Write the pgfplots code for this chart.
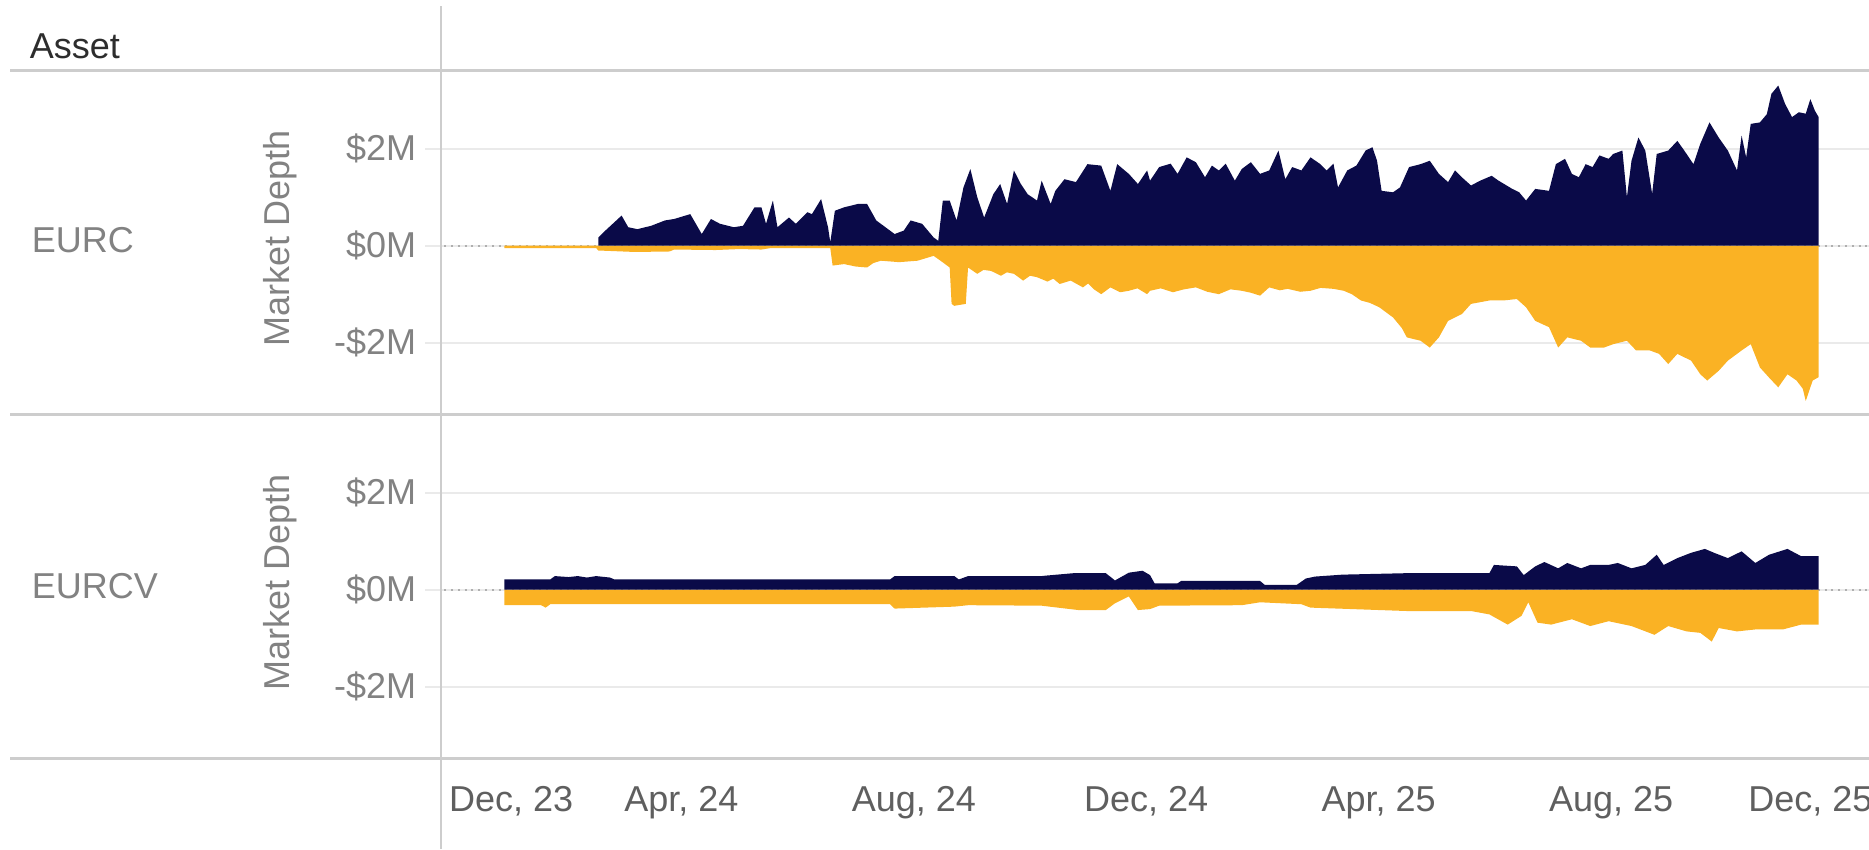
\documentclass[border=0pt]{standalone}
\usepackage{fontspec}
\setmainfont{Liberation Sans}
\usepackage{pgfplots}
\pgfplotsset{compat=1.18}
\definecolor{navy}{RGB}{10,10,72}
\definecolor{gold}{RGB}{250,178,36}
\definecolor{rulec}{RGB}{205,205,205}
\definecolor{gridc}{RGB}{234,234,234}
\definecolor{lab}{RGB}{130,130,130}
\definecolor{xlab}{RGB}{95,95,95}
\definecolor{assetc}{RGB}{45,45,45}
\definecolor{zeroc}{RGB}{175,175,175}

\pgfplotsset{
  panel/.style={
    anchor=south west, width=357pt, height=86pt, scale only axis,
    xmin=-0.138, xmax=24.44, ymin=-3.47, ymax=3.62,
    axis line style={draw=none},
    ytick={-2,0,2}, yticklabels={-\$2M,\$0M,\$2M},
    ymajorgrids, grid style={gridc, line width=0.45pt},
    tick align=outside, major tick length=4pt,
    ytick pos=left, xtick pos=bottom,
    ytick style={gridc, line width=0.45pt},
    xtick style={draw=none},
    yticklabel style={text=lab, font=\fontsize{9}{10}\selectfont, inner sep=0pt, anchor=east, xshift=-2pt},
    clip=true,
  }
}

\begin{document}
\fontsize{9}{11}\selectfont
\begin{tikzpicture}
\path[use as bounding box] (0,0) rectangle (467.25pt,-212.25pt);
\clip (0,0) rectangle (467.25pt,-212.25pt);

\begin{scope}[x=0.25pt,y=-0.25pt]
\node[anchor=west, inner sep=0pt, text=assetc] at (29,46) {Asset};
\node[anchor=west, inner sep=0pt, text=lab] at (31,240) {EURC};
\node[anchor=west, inner sep=0pt, text=lab] at (31,586) {EURCV};
\node[rotate=90, inner sep=0pt, text=lab] at (280,238) {Market Depth};
\node[rotate=90, inner sep=0pt, text=lab] at (280,582) {Market Depth};
\end{scope}

% ---------------- EURC ----------------
\begin{axis}[panel, at={(110.25pt,-103.5pt)}, xtick=\empty]
\addplot[zeroc, line width=0.5pt, dash pattern=on 0.5pt off 1.2pt] coordinates {(-0.2,0) (24.6,0)};
\addplot[draw=none, fill=gold] table {
x y
0.951 -0.05
2.532 -0.05
2.571 -0.10
3.20 -0.13
3.796 -0.12
3.875 -0.08
4.587 -0.09
5.00 -0.07
5.377 -0.08
5.535 -0.05
6.562 -0.05
6.602 -0.41
6.80 -0.38
7.00 -0.43
7.195 -0.45
7.30 -0.36
7.432 -0.31
7.748 -0.34
8.064 -0.31
8.34 -0.21
8.459 -0.31
8.617 -0.45
8.65 -1.20
8.696 -1.24
8.894 -1.20
8.933 -0.45
9.091 -0.58
9.20 -0.50
9.328 -0.52
9.50 -0.62
9.60 -0.55
9.723 -0.58
9.881 -0.72
10.00 -0.62
10.12 -0.65
10.30 -0.74
10.40 -0.68
10.51 -0.79
10.70 -0.72
10.91 -0.86
11.00 -0.78
11.10 -0.90
11.225 -1.00
11.383 -0.86
11.55 -0.96
11.70 -0.93
11.85 -0.88
12.015 -1.00
12.065 -0.93
12.25 -0.88
12.46 -0.96
12.65 -0.90
12.854 -0.86
13.05 -0.95
13.249 -1.00
13.45 -0.90
13.644 -0.93
13.80 -0.97
13.959 -1.03
14.117 -0.86
14.30 -0.92
14.433 -0.89
14.65 -0.95
14.827 -0.93
15.00 -0.87
15.222 -0.89
15.40 -0.93
15.538 -1.00
15.696 -1.13
15.85 -1.18
16.011 -1.27
16.248 -1.48
16.40 -1.70
16.485 -1.89
16.722 -1.96
16.88 -2.10
17.037 -1.89
17.195 -1.55
17.432 -1.41
17.59 -1.20
17.906 -1.13
18.142 -1.13
18.379 -1.10
18.537 -1.27
18.695 -1.55
18.932 -1.68
19.09 -2.10
19.247 -1.89
19.484 -1.96
19.642 -2.10
19.879 -2.10
20.037 -2.03
20.273 -1.96
20.431 -2.16
20.668 -2.16
20.826 -2.23
20.984 -2.44
21.141 -2.23
21.378 -2.37
21.536 -2.65
21.655 -2.78
21.852 -2.58
22.01 -2.37
22.247 -2.16
22.404 -2.03
22.562 -2.51
22.72 -2.72
22.878 -2.92
23.036 -2.65
23.193 -2.78
23.30 -2.95
23.351 -3.20
23.47 -2.78
23.573 -2.71
} \closedcycle;
\addplot[draw=none, fill=navy] table {
x y
2.571 0.17
2.69 0.31
2.97 0.62
3.085 0.38
3.243 0.34
3.48 0.41
3.717 0.52
3.875 0.55
4.152 0.65
4.35 0.24
4.508 0.55
4.665 0.45
4.903 0.38
5.06 0.41
5.258 0.79
5.377 0.79
5.456 0.45
5.574 0.93
5.653 0.38
5.851 0.58
5.97 0.45
6.167 0.69
6.246 0.65
6.404 0.96
6.523 0.38
6.562 0.07
6.641 0.72
6.80 0.79
7.036 0.86
7.195 0.86
7.353 0.52
7.669 0.24
7.827 0.31
7.945 0.52
8.143 0.45
8.34 0.17
8.42 0.10
8.499 0.93
8.617 0.93
8.736 0.52
8.854 1.20
8.973 1.58
9.091 1.00
9.21 0.58
9.368 1.06
9.486 1.27
9.605 0.86
9.723 1.55
9.842 1.27
9.96 1.06
10.12 0.93
10.20 1.34
10.355 0.86
10.435 1.13
10.593 1.37
10.79 1.31
10.988 1.68
11.225 1.65
11.383 1.13
11.50 1.68
11.70 1.48
11.857 1.27
12.015 1.55
12.065 1.34
12.223 1.62
12.42 1.69
12.539 1.48
12.696 1.82
12.854 1.72
13.012 1.41
13.13 1.65
13.249 1.55
13.367 1.69
13.525 1.34
13.644 1.58
13.801 1.72
13.959 1.48
14.117 1.55
14.275 1.96
14.393 1.37
14.512 1.62
14.67 1.55
14.827 1.82
14.985 1.69
15.104 1.55
15.222 1.69
15.301 1.20
15.459 1.55
15.617 1.65
15.775 1.96
15.893 2.03
15.972 1.75
16.051 1.13
16.248 1.10
16.367 1.20
16.524 1.62
16.722 1.68
16.88 1.75
17.037 1.48
17.195 1.31
17.314 1.55
17.432 1.41
17.59 1.24
17.748 1.34
17.945 1.44
18.063 1.34
18.30 1.17
18.419 1.10
18.537 0.93
18.695 1.17
18.932 1.13
19.05 1.68
19.208 1.79
19.326 1.48
19.445 1.41
19.563 1.68
19.682 1.62
19.80 1.86
19.958 1.79
20.037 1.89
20.195 1.96
20.273 1.00
20.352 1.75
20.471 2.23
20.589 1.96
20.707 1.07
20.786 1.89
20.984 1.96
21.141 2.16
21.26 1.96
21.418 1.68
21.536 2.10
21.694 2.54
21.852 2.23
22.01 1.96
22.168 1.55
22.247 2.27
22.325 1.82
22.404 2.51
22.562 2.54
22.681 2.71
22.76 3.13
22.878 3.30
22.996 2.92
23.115 2.65
23.233 2.75
23.351 2.72
23.43 3.02
23.509 2.78
23.573 2.65
} \closedcycle;
\end{axis}

% ---------------- EURCV ----------------
\begin{axis}[panel, at={(110.25pt,-189.5pt)},
  xtick={0,4,8,12,16,20,24},
  xticklabels={{\makebox[0pt][l]{Dec, 23}},{Apr, 24},{Aug, 24},{Dec, 24},{Apr, 25},{Aug, 25},{\makebox[0pt][l]{\hspace*{-23.75pt}Dec, 25}}},
  xticklabel style={text=xlab, font=\fontsize{9}{10}\selectfont, inner sep=0pt, anchor=north, yshift=-3pt},
]
\addplot[zeroc, line width=0.5pt, dash pattern=on 0.5pt off 1.2pt] coordinates {(-0.2,0) (24.6,0)};
\addplot[draw=none, fill=gold] table {
x y
0.951 -0.32
1.584 -0.32
1.663 -0.37
1.742 -0.30
7.59 -0.30
7.669 -0.39
8.696 -0.35
8.933 -0.32
10.197 -0.33
10.83 -0.42
11.304 -0.42
11.462 -0.28
11.70 -0.14
11.857 -0.42
12.065 -0.40
12.223 -0.33
13.644 -0.32
13.959 -0.26
14.67 -0.30
14.827 -0.37
16.485 -0.44
17.59 -0.44
17.906 -0.51
18.221 -0.72
18.458 -0.54
18.576 -0.26
18.734 -0.68
18.97 -0.72
19.326 -0.61
19.642 -0.75
19.958 -0.65
20.352 -0.75
20.747 -0.93
20.984 -0.75
21.299 -0.86
21.536 -0.89
21.734 -1.07
21.852 -0.79
22.168 -0.86
22.483 -0.82
22.957 -0.82
23.272 -0.72
23.573 -0.72
} \closedcycle;
\addplot[draw=none, fill=navy] table {
x y
0.951 0.21
1.742 0.21
1.821 0.28
2.058 0.26
2.216 0.28
2.374 0.25
2.532 0.28
2.769 0.25
2.848 0.21
7.59 0.21
7.669 0.28
8.696 0.28
8.775 0.21
8.933 0.28
10.197 0.28
10.276 0.29
10.751 0.34
11.304 0.34
11.462 0.19
11.70 0.35
11.936 0.39
12.065 0.30
12.144 0.13
12.539 0.13
12.60 0.18
13.959 0.18
14.038 0.10
14.591 0.10
14.748 0.23
14.906 0.27
15.38 0.31
16.485 0.34
17.906 0.34
17.984 0.51
18.379 0.48
18.497 0.30
18.695 0.48
18.853 0.57
19.09 0.44
19.247 0.55
19.484 0.44
19.642 0.51
19.958 0.51
20.116 0.55
20.352 0.44
20.589 0.51
20.786 0.72
20.905 0.51
21.141 0.65
21.378 0.76
21.615 0.84
21.773 0.76
22.01 0.65
22.247 0.79
22.483 0.55
22.72 0.72
23.036 0.84
23.272 0.69
23.573 0.69
} \closedcycle;
\end{axis}

\begin{scope}[x=0.25pt,y=-0.25pt]
\draw[rulec, line width=0.75pt] (10,70) -- (1869,70);
\draw[rulec, line width=0.75pt] (10,414) -- (1869,414);
\draw[rulec, line width=0.75pt] (10,758) -- (1869,758);
\draw[rulec, line width=0.5pt] (440.5,6) -- (440.5,849);
\end{scope}
\end{tikzpicture}
\end{document}
